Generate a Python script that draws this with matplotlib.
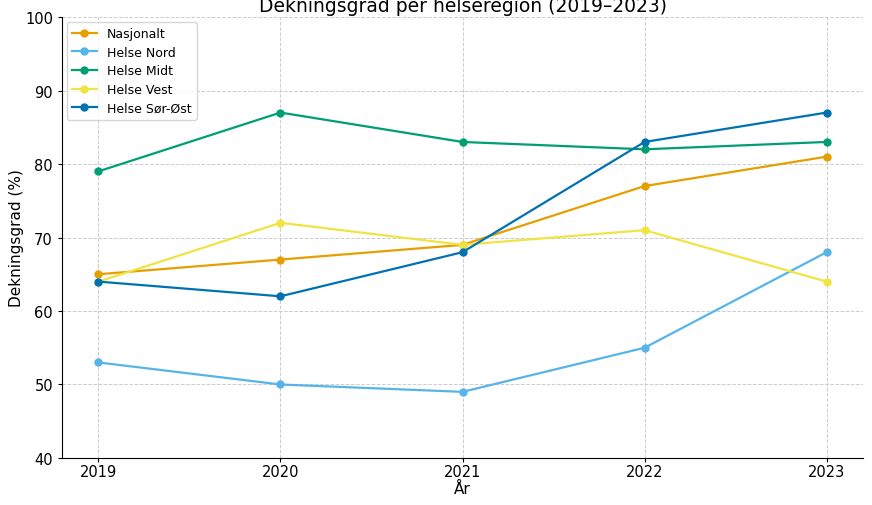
import matplotlib
matplotlib.use("Agg")
import matplotlib.pyplot as plt

years = [2019, 2020, 2021, 2022, 2023]
series_names = ["Nasjonalt", "Helse Nord", "Helse Midt", "Helse Vest", "Helse Sør-Øst"]
nasjonalt = [65, 67, 69, 77, 81]
helse_nord = [53, 50, 49, 55, 68]
helse_midt = [79, 87, 83, 82, 83]
helse_vest = [64, 72, 69, 71, 64]
helse_sor_ost = [64, 62, 68, 83, 87]
colors = ["#E69F00", "#56B4E9", "#009E73", "#F0E442", "#0072B2"]

plt.rcParams['font.family'] = ['DejaVu Sans']
fig = plt.figure(figsize=(8.72, 5.06), dpi=100)
ax = fig.add_axes([0.0711, 0.0929, 0.9186, 0.8715])

for name, vals, c in zip(series_names,
                         [nasjonalt, helse_nord, helse_midt, helse_vest, helse_sor_ost],
                         colors):
    ax.plot(years, vals, marker="o", markersize=5, linewidth=1.6, color=c, label=name)

ax.set_ylim(40, 100)
ax.set_xticks(years)
ax.set_yticks([40, 50, 60, 70, 80, 90, 100])
ax.tick_params(axis="both", labelsize=10.5, length=3, width=0.8)
ax.tick_params(axis="x", pad=1.5)
ax.grid(True, linestyle="--", color="#cccccc", linewidth=0.7)
ax.spines["top"].set_visible(False)
ax.spines["right"].set_visible(False)
ax.set_xlabel("År", fontsize=11, labelpad=1)
ax.set_ylabel("Dekningsgrad (%)", fontsize=11, labelpad=1)
ax.set_title("Dekningsgrad per helseregion (2019–2023)", fontsize=13.5, pad=4.5)
ax.legend(loc="upper left", fontsize=9, frameon=True, borderaxespad=0.4,
          handlelength=2.0, labelspacing=0.45)

fig.savefig("out.png", dpi=100)
